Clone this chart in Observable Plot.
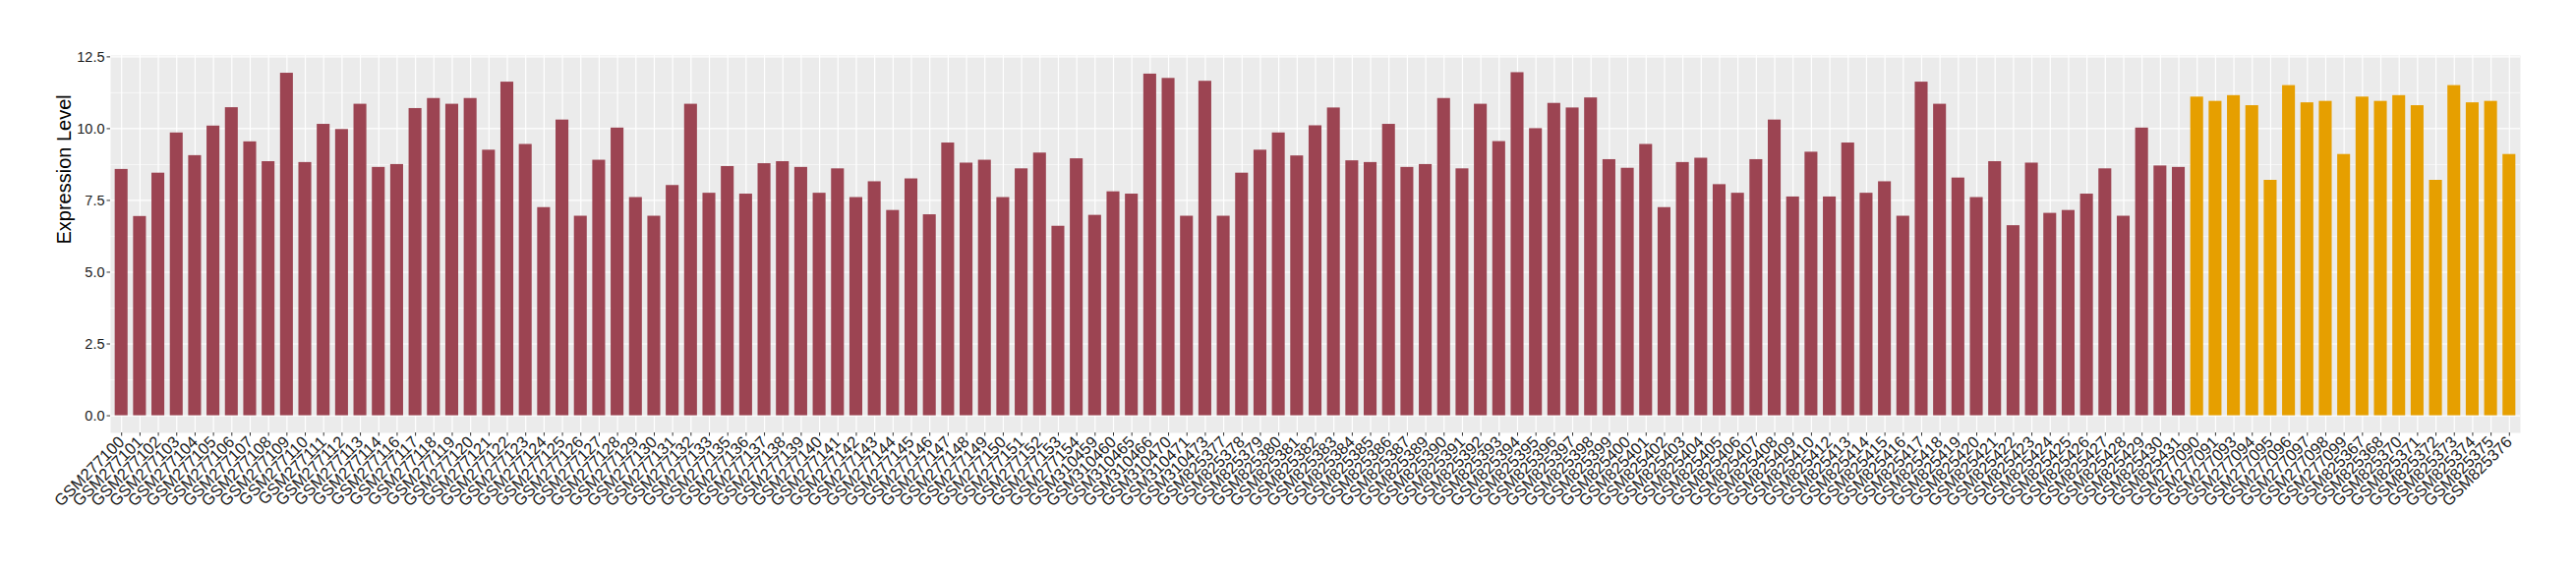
<!DOCTYPE html>
<html>
<head>
<meta charset="utf-8">
<script src="https://cdn.jsdelivr.net/npm/d3@7"></script>
<script src="https://cdn.jsdelivr.net/npm/@observablehq/plot@0.6"></script>
<style>
  html, body { margin: 0; padding: 0; background: #ffffff; }
  #chart { width: 2620px; height: 580px; }
</style>
</head>
<body>
<div id="chart"></div>
<script>
// Group A (dark red) samples and values
const samplesA = [
  "GSM277100","GSM277101","GSM277102","GSM277103","GSM277104","GSM277105","GSM277106","GSM277107","GSM277108","GSM277109",
  "GSM277110","GSM277111","GSM277112","GSM277113","GSM277114","GSM277116","GSM277117","GSM277118","GSM277119","GSM277120",
  "GSM277121","GSM277122","GSM277123","GSM277124","GSM277125","GSM277126","GSM277127","GSM277128","GSM277129","GSM277130",
  "GSM277131","GSM277132","GSM277133","GSM277135","GSM277136","GSM277137","GSM277138","GSM277139","GSM277140","GSM277141",
  "GSM277142","GSM277143","GSM277144","GSM277145","GSM277146","GSM277147","GSM277148","GSM277149","GSM277150","GSM277151",
  "GSM277152","GSM277153","GSM277154","GSM310459","GSM310460","GSM310465","GSM310466","GSM310470","GSM310471","GSM310473",
  "GSM825377","GSM825378","GSM825379","GSM825380","GSM825381","GSM825382","GSM825383","GSM825384","GSM825385","GSM825386",
  "GSM825387","GSM825389","GSM825390","GSM825391","GSM825392","GSM825393","GSM825394","GSM825395","GSM825396","GSM825397",
  "GSM825398","GSM825399","GSM825400","GSM825401","GSM825402","GSM825403","GSM825404","GSM825405","GSM825406","GSM825407",
  "GSM825408","GSM825409","GSM825410","GSM825412","GSM825413","GSM825414","GSM825415","GSM825416","GSM825417","GSM825418",
  "GSM825419","GSM825420","GSM825421","GSM825422","GSM825423","GSM825424","GSM825425","GSM825426","GSM825427","GSM825428",
  "GSM825429","GSM825430","GSM825431"
];
const valuesA = [
  8.58,6.94,8.45,9.85,9.06,10.09,10.73,9.54,8.85,11.93,
  8.82,10.15,9.97,10.85,8.65,8.75,10.70,11.05,10.85,11.05,
  9.25,11.62,9.45,7.25,10.30,6.95,8.90,10.02,7.60,6.95,
  8.02,10.85,7.75,8.68,7.72,8.78,8.85,8.65,7.75,8.60,
  7.60,8.15,7.15,8.25,7.00,9.50,8.80,8.90,7.60,8.60,
  9.15,6.60,8.95,6.98,7.80,7.72,11.90,11.75,6.95,11.65,
  6.95,8.45,9.25,9.85,9.05,10.10,10.72,8.88,8.82,10.15,
  8.65,8.75,11.05,8.60,10.85,9.55,11.95,10.00,10.88,10.72,
  11.07,8.92,8.62,9.45,7.25,8.82,8.97,8.05,7.75,8.92,
  10.30,7.62,9.18,7.62,9.50,7.75,8.15,6.95,11.62,10.85,
  8.28,7.60,8.85,6.62,8.80,7.05,7.15,7.72,8.60,6.95,
  10.02,8.70,8.65
];
// Group B (orange) samples and values
const samplesB = [
  "GSM277090","GSM277091","GSM277093","GSM277094","GSM277095","GSM277096","GSM277097","GSM277098","GSM277099",
  "GSM825367","GSM825368","GSM825370","GSM825371","GSM825372","GSM825373","GSM825374","GSM825375","GSM825376"
];
const valuesB = [
  11.10,10.95,11.15,10.80,8.20,11.50,10.90,10.95,9.10,
  11.10,10.95,11.15,10.80,8.20,11.50,10.90,10.95,9.10
];
const groupNames = ["A", "B"];
const groupColors = ["#9C4452", "#E69F00"];
const majorTicks = [0, 2.5, 5, 7.5, 10, 12.5];
const minorTicks = [1.25, 3.75, 6.25, 8.75, 11.25];
const yTitle = "Expression Level";

const data = [
  ...samplesA.map((s, i) => ({sample: s, value: valuesA[i], group: "A"})),
  ...samplesB.map((s, i) => ({sample: s, value: valuesB[i], group: "B"}))
];
const allSamples = data.map(d => d.sample);
const maxV = d3.max(data, d => d.value);
const pad = maxV * 0.05;

const chart = Plot.plot({
  width: 2620,
  height: 580,
  marginLeft: 112,
  marginRight: 57,
  marginTop: 56,
  marginBottom: 140,
  style: {fontFamily: "'Liberation Sans', Arial, Helvetica, sans-serif", background: "#ffffff", color: "#1a1a1a"},
  x: {type: "band", domain: allSamples, paddingInner: 0.3, paddingOuter: 0.25, align: 0.5},
  y: {domain: [-pad, maxV + pad]},
  color: {domain: groupNames, range: groupColors},
  marks: [
    Plot.frame({fill: "#EBEBEB", stroke: null}),
    Plot.ruleY(minorTicks, {stroke: "#ffffff", strokeWidth: 0.6}),
    Plot.ruleY(majorTicks, {stroke: "#ffffff", strokeWidth: 1.2}),
    Plot.ruleX(allSamples, {x: d => d, stroke: "#ffffff", strokeWidth: 1.2}),
    Plot.barY(data, {x: "sample", y: "value", fill: "group"}),
    Plot.axisY({ticks: majorTicks, tickFormat: d3.format(".1f"), tickSize: 3.5, tickPadding: 2.5, fontSize: 14.5, label: null, stroke: "#333333"}),
    Plot.axisX({tickRotate: -45, tickSize: 3.5, tickPadding: 3, fontSize: 16.5, label: null, stroke: "#333333"}),
    Plot.text([yTitle], {frameAnchor: "left", rotate: -90, dx: -47, fontSize: 20, fill: "#000000"})
  ]
});
document.getElementById("chart").appendChild(chart);
</script>
</body>
</html>
